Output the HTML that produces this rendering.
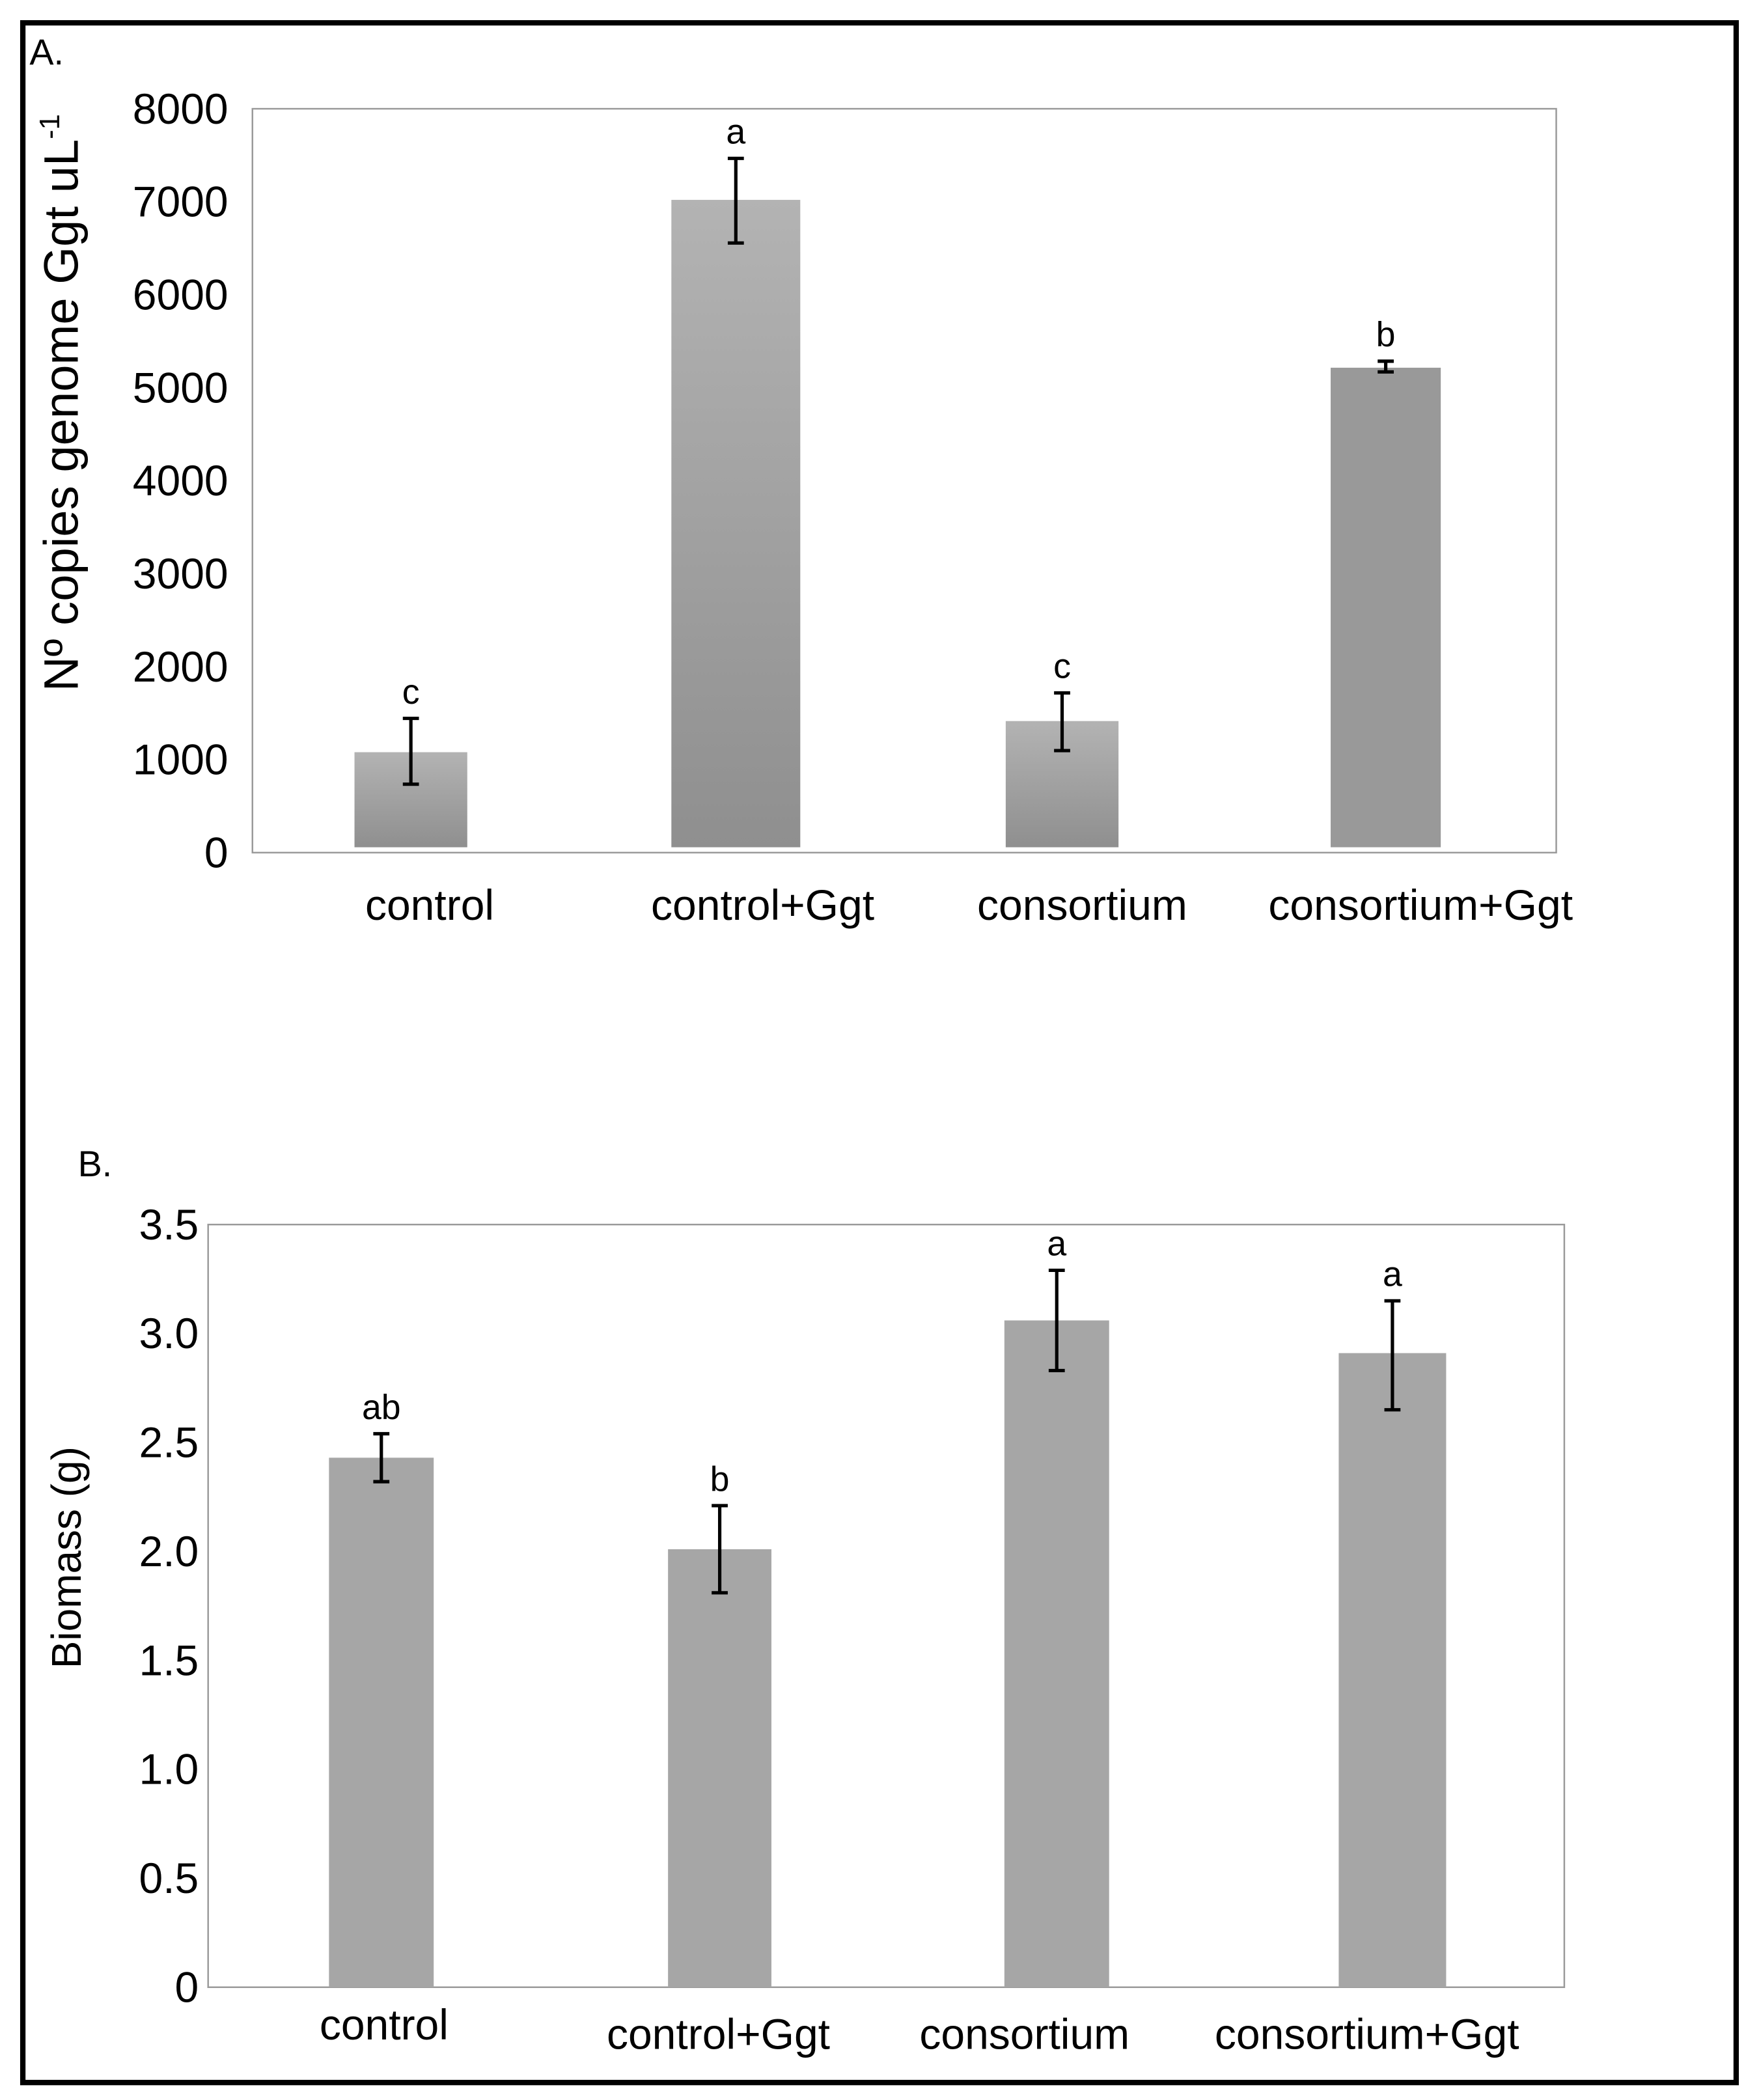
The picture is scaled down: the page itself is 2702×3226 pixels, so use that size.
<!DOCTYPE html>
<html><head><meta charset="utf-8"><style>
html,body{margin:0;padding:0;background:#fff;}
svg{display:block;}
text{font-family:"Liberation Sans",Arial,sans-serif;fill:#000;}
</style></head><body>
<svg id="fig" width="2702" height="3226" viewBox="0 0 1310 1564" preserveAspectRatio="none">
<defs>
<linearGradient id="gA" x1="0" y1="0" x2="0" y2="1"><stop offset="0" stop-color="#b3b3b3"/><stop offset="1" stop-color="#8f8f8f"/></linearGradient>
</defs>
<rect x="17" y="17" width="1276" height="1534" fill="none" stroke="#000" stroke-width="4"/>
<text x="22" y="48" font-size="27">A.</text>
<text x="58" y="876" font-size="27">B.</text>
<g id="chartA"></g>
<g id="chartB"></g>
</svg>
<script>
const categories = ["control","control+Ggt","consortium","consortium+Ggt"];
const copiesValues = [1080, 7020, 1415, 5215];
const copiesErrHigh = [1444, 7466, 1718, 5285];
const copiesErrLow = [736, 6556, 1097, 5170];
const copiesLetters = ["c","a","c","b"];
const copiesTicks = [0,1000,2000,3000,4000,5000,6000,7000,8000];
const biomassValues = [2.43, 2.01, 3.06, 2.91];
const biomassErrHigh = [2.54, 2.21, 3.29, 3.15];
const biomassErrLow = [2.32, 1.81, 2.83, 2.65];
const biomassLetters = ["ab","b","a","a"];
const biomassTicks = [0,0.5,1.0,1.5,2.0,2.5,3.0,3.5];
const biomassTickLabels = ["0","0.5","1.0","1.5","2.0","2.5","3.0","3.5"];

const NS="http://www.w3.org/2000/svg";
function mk(parent,tag,attrs,txt){const e=document.createElementNS(NS,tag);for(const k in attrs)e.setAttribute(k,attrs[k]);if(txt!==undefined)e.textContent=txt;parent.appendChild(e);return e;}

function drawChart(g,cfg){
  const y=v=>cfg.bottom-(v-cfg.min)/(cfg.max-cfg.min)*(cfg.bottom-cfg.top);
  const fr=mk(g,'rect',{x:cfg.left,y:cfg.top,width:cfg.right-cfg.left,height:cfg.bottom-cfg.top,fill:'none',stroke:'#9a9a9a','stroke-width':1.2});
  
  
  cfg.ticks.forEach((t,i)=>{
    const tx=mk(g,'text',{x:cfg.tickX,y:y(t)+11,'font-size':cfg.tickFs,'text-anchor':'end'},cfg.tickLabels[i]);
    
    
  });
  cfg.values.forEach((v,i)=>{
    const cx=cfg.centers[i], w=cfg.widths[i];
    const b=mk(g,'rect',{x:cx-w/2,y:y(v),width:w,height:cfg.barBottom-y(v),fill:cfg.fills[i]});
    
    
    const hi=y(cfg.errHigh[i]), lo=y(cfg.errLow[i]);
    const eb=mk(g,'path',{d:`M${cx},${hi}V${lo}M${cx-6},${hi}H${cx+6}M${cx-6},${lo}H${cx+6}`,stroke:'#000','stroke-width':2.5,fill:'none'});
    
    
    const lt=mk(g,'text',{x:cx,y:hi-11,'font-size':26,'text-anchor':'middle'},cfg.letters[i]);
    
    
    const xl=mk(g,'text',{x:cfg.labelX[i],y:cfg.labelY[i],'font-size':32,'text-anchor':'middle'},categories[i]);
    
    
  });
}

drawChart(document.getElementById('chartA'),{
  left:188,right:1159,top:81,bottom:635,barBottom:631,min:0,max:8000,
  ticks:copiesTicks,tickLabels:copiesTicks.map(String),tickX:170,tickFs:32,
  values:copiesValues,errHigh:copiesErrHigh,errLow:copiesErrLow,letters:copiesLetters,
  centers:[306,548,791,1032],widths:[84,96,84,82],
  fills:['url(#gA)','url(#gA)','url(#gA)','#999999'],
  labelX:[320,568,806,1058],labelY:[685,685,685,685]
});
drawChart(document.getElementById('chartB'),{
  left:155,right:1165,top:912,bottom:1480,barBottom:1480,min:0,max:3.5,
  ticks:biomassTicks,tickLabels:biomassTickLabels,tickX:148,tickFs:32,
  values:biomassValues,errHigh:biomassErrHigh,errLow:biomassErrLow,letters:biomassLetters,
  centers:[284,536,787,1037],widths:[78,77,78,80],
  fills:['#a6a6a6','#a6a6a6','#a6a6a6','#a6a6a6'],
  labelX:[286,535,763,1018],labelY:[1519,1526,1526,1526]
});

const svg=document.getElementById('fig');
const ta=mk(svg,'text',{x:0,y:0,'font-size':36,'text-anchor':'middle',transform:'translate(58,300) rotate(-90)'});


ta.appendChild(document.createTextNode('Nº copies genome Ggt uL'));
const sup=mk(ta,'tspan',{'font-size':21,dy:-14},'-1');
const tb=mk(svg,'text',{x:0,y:0,'font-size':31,'text-anchor':'middle',transform:'translate(60,1160) rotate(-90)'},'Biomass (g)');


</script>
</body></html>
